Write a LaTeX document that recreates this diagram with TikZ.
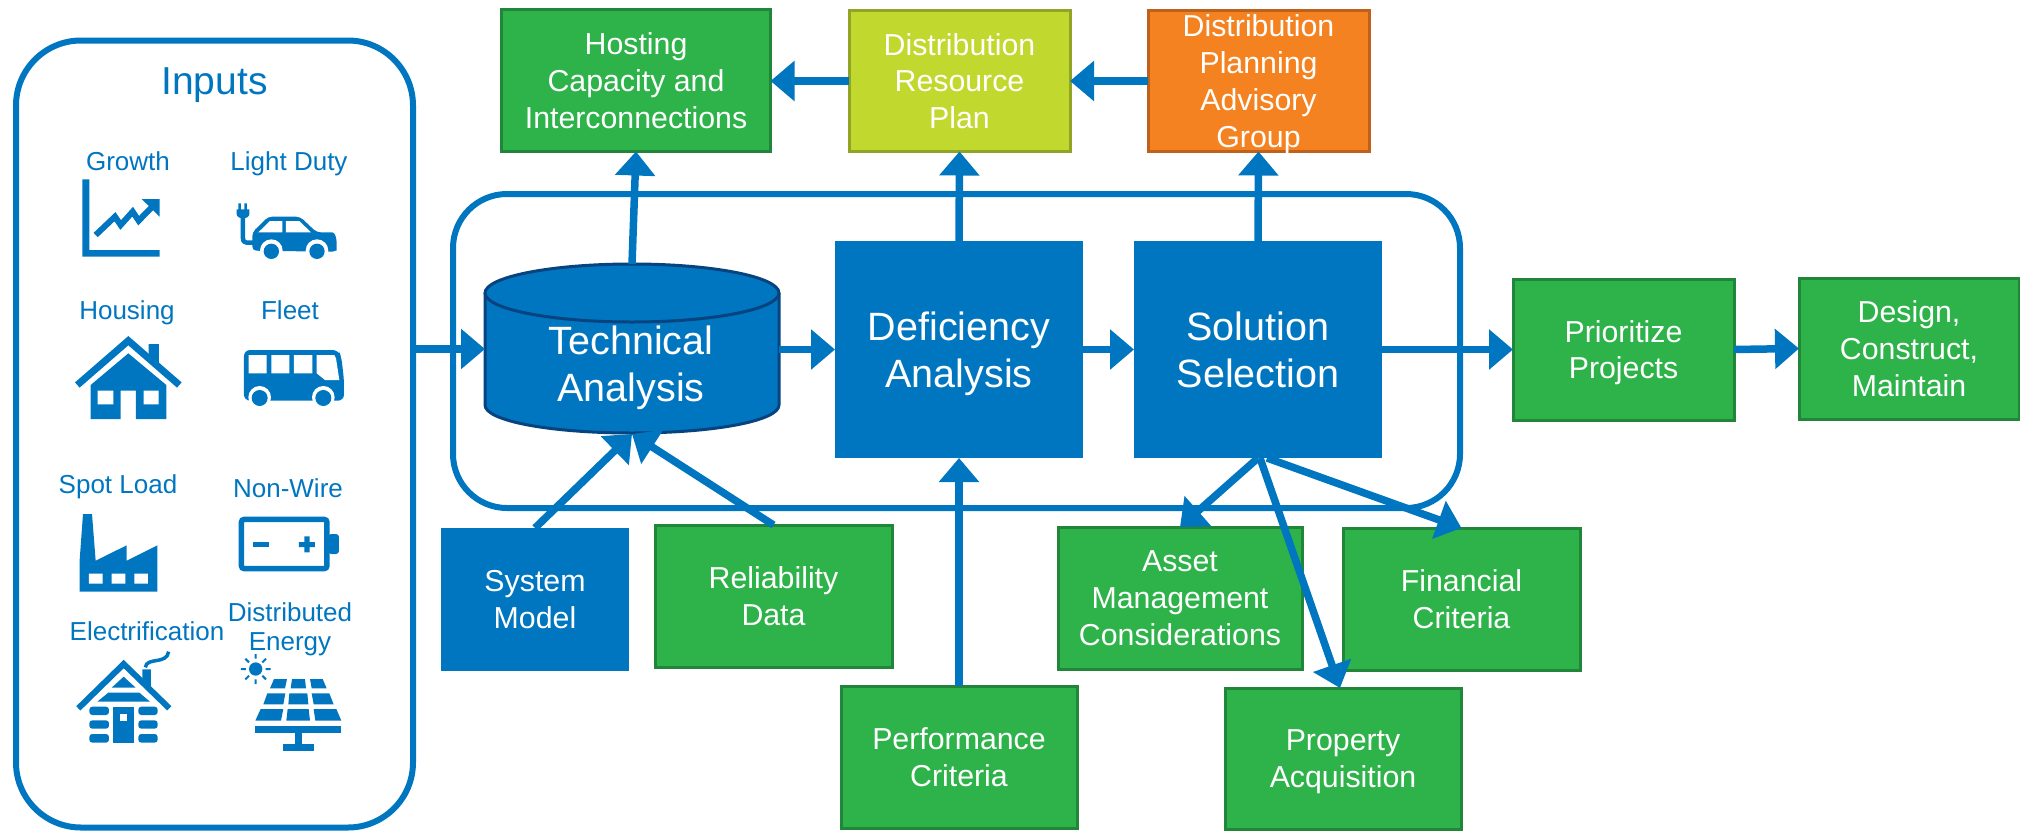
\documentclass[tikz,border=0pt]{standalone}
\usepackage{fontspec}
\setmainfont{Liberation Sans}
\usetikzlibrary{arrows.meta,calc}
\definecolor{mainblue}{HTML}{0176C0}
\definecolor{cyledge}{HTML}{06437F}
\definecolor{boxgreen}{HTML}{2EB34A}
\definecolor{greenedge}{HTML}{22863A}
\definecolor{boxlime}{HTML}{C1D82F}
\definecolor{limeedge}{HTML}{92A426}
\definecolor{boxorange}{HTML}{F58220}
\definecolor{orangeedge}{HTML}{BF611B}
\tikzset{
  basebox/.style={rectangle,inner sep=0pt,outer sep=0pt,align=center,text=white,text depth=0pt,
    font=\fontsize{30.3}{36.7}\selectfont},
  greenbox/.style={basebox,fill=boxgreen,draw=greenedge,line width=3pt},
  limebox/.style={basebox,fill=boxlime,draw=limeedge,line width=3pt},
  orangebox/.style={basebox,fill=boxorange,draw=orangeedge,line width=3pt},
  bluebox/.style={basebox,fill=mainblue},
  bigbox/.style={bluebox,font=\fontsize{39.5}{47}\selectfont},
  frame/.style={rectangle,draw=mainblue,line width=6pt,inner sep=0pt,outer sep=0pt},
  inlabel/.style={inner sep=0pt,align=center,text=mainblue,font=\fontsize{26}{29}\selectfont},
  flow/.style={draw=mainblue,line width=7.5pt,-{Triangle[length=24pt,width=39pt]}},
  icon/.style={shift={(0,#1)},scale=0.33333,mainblue,fill=mainblue},
  hole/.style={fill=white}
}
\begin{document}
\begin{tikzpicture}[x=1pt,y=-1pt]
\useasboundingbox (0,0) rectangle (2020,830);

% frames
\node[frame,rounded corners=54pt,minimum width=1007pt,minimum height=314pt] (middle) at (956.5,351) {};
\node[frame,rounded corners=65pt,minimum width=397pt,minimum height=787pt] (inputs) at (214.5,434) {};
\node[inlabel,font=\fontsize{39}{45}\selectfont] (inputstitle) at (214.5,85) {Inputs};

% input labels
\node[inlabel] (lgrowth) at (128,161) {Growth};
\node[inlabel] (llight) at (289,164) {Light Duty};
\node[inlabel] (lhousing) at (127,313) {Housing};
\node[inlabel] (lfleet) at (290,310) {Fleet};
\node[inlabel] (lspot) at (118,487) {Spot Load};
\node[inlabel] (lnonwire) at (288,488) {Non-Wire};
\node[inlabel] (lelec) at (147,631) {Electrification};
\node[inlabel] (ldist) at (290,629) {Distributed\\Energy};

% icons from first zoom (y offset 100)
\begin{scope}[icon=100]
  % growth
  \fill (247,238) -- (268,238) -- (268,450) -- (479,450) -- (479,470) -- (247,470) -- cycle;
  \draw[line width=6pt,miter limit=10] (287,405) -- (345,350) -- (362,375) -- (398,335) -- (416,362) -- (455,322);
  \fill (425,297) -- (479,297) -- (479,350) -- cycle;
  % car
  \fill[rounded corners=4pt] (757,452) -- (757,397) -- (805,350) -- (900,350) -- (950,397) -- (985,397) .. controls (1005,397) and (1010,415) .. (1010,440) .. controls (1010,450) and (1000,455) .. (985,455) -- cycle;
  \fill[hole] (775,397) -- (810,363) -- (847,363) -- (847,397) -- cycle;
  \fill[hole] (858,363) -- (898,363) -- (933,397) -- (858,397) -- cycle;
  \fill[hole] (814,452) circle (34) (951,452) circle (34);
  \fill (814,454) circle (23) (951,454) circle (23);
  \fill (715,310) rectangle (723,330) (733,310) rectangle (741,330);
  \fill (710,328) -- (748,328) -- (748,342) .. controls (748,350) and (738,356) .. (729,356) .. controls (720,356) and (710,350) .. (710,342) -- cycle;
  \draw[line width=4.5pt] (729,350) -- (729,415) .. controls (729,425) and (735,428) .. (745,428) -- (760,428);
  % house
  \draw[line width=7pt] (232,855) -- (385,722) -- (538,855);
  \fill (446,732) -- (477,732) -- (477,800) -- (446,772) -- cycle;
  \fill (272,855) -- (385,760) -- (499,855) -- (499,957) -- (408,957) -- (408,872) -- (362,872) -- (362,957) -- (272,957) -- cycle;
  \fill[hole] (293,872) rectangle (340,913) (431,872) rectangle (476,913);
  % bus
  \fill[rounded corners=6pt] (732,902) -- (732,750) -- (1015,750) -- (1024,770) -- (1032,840) -- (1032,902) -- cycle;
  \fill[hole] (746,765) rectangle (800,820) (814,765) rectangle (868,820) (882,765) rectangle (937,820);
  \fill[hole] (950,765) -- (1003,765) -- (1008,775) -- (1018,840) -- (975,840) -- (950,820) -- cycle;
  \fill[hole] (779,892) circle (34) (970,892) circle (34);
  \fill (779,894) circle (24) (970,894) circle (24);
\end{scope}

% icons from second zoom (y offset 460)
\begin{scope}[icon=460]
  % factory
  \fill (249,162) -- (276,162) -- (287,302) -- (380,256) -- (380,302) -- (472,256) -- (472,395) -- (239,395) -- (239,300) -- cycle;
  \fill[hole] (267,341) rectangle (308,371) (335,341) rectangle (376,371) (403,341) rectangle (444,371);
  % battery
  \draw[line width=5.5pt,rounded corners=3pt] (724,178) rectangle (981,326);
  \fill[rounded corners=3pt] (985,222) rectangle (1017,282);
  \fill (759,246) rectangle (807,261);
  \fill (897,246) rectangle (945,261) (913,229) rectangle (929,277);
  % cabin
  \draw[line width=6pt] (235,745) -- (371,612) -- (508,745);
  \fill (427,628) -- (453,628) -- (453,682) -- (427,655) -- cycle;
  \draw[line width=3.5pt,fill=none] (436,622) .. controls (440,590) and (500,615) .. (506,575);
  \fill (335,683) -- (371,650) -- (407,683) -- cycle;
  \fill (292,725) -- (325,698) -- (418,698) -- (450,725) -- cycle;
  \fill (340,740) rectangle (402,848);
  \fill[hole] (360,763) rectangle (382,784);
  \fill[rounded corners=3pt] (268,740) rectangle (327,765) (268,781) rectangle (327,806) (268,822) rectangle (327,848);
  \fill[rounded corners=3pt] (415,740) rectangle (473,765) (415,781) rectangle (473,806) (415,822) rectangle (473,848);
  % solar
  \fill (767,627) circle (20);
  \draw[line width=2pt] (767,582) -- (767,596) (767,658) -- (767,672) (723,627) -- (738,627) (797,627) -- (812,627)
    (736,596) -- (747,607) (787,647) -- (798,658) (736,658) -- (747,647) (787,607) -- (798,596);
  \fill (822,657) -- (861,657) -- (855,685) -- (810,685) -- cycle;
  \fill (876,657) -- (915,657) -- (918,685) -- (872,685) -- cycle;
  \fill (930,657) -- (968,657) -- (980,685) -- (935,685) -- cycle;
  \fill (802,700) -- (856,700) -- (850,733) -- (790,733) -- cycle;
  \fill (868,700) -- (922,700) -- (925,733) -- (865,733) -- cycle;
  \fill (935,700) -- (988,700) -- (1001,733) -- (941,733) -- cycle;
  \fill (782,747) -- (850,747) -- (843,782) -- (766,782) -- cycle;
  \fill (863,747) -- (926,747) -- (930,782) -- (859,782) -- cycle;
  \fill (941,747) -- (1009,747) -- (1024,782) -- (946,782) -- cycle;
  \fill (766,797) rectangle (1024,818);
  \fill (886,818) rectangle (905,852);
  \fill (849,852) rectangle (942,872);
\end{scope}

% process boxes
\node[greenbox,minimum width=269pt,minimum height=142pt] (hosting) at (636,80.5) {Hosting\\Capacity and\\Interconnections};
\node[limebox,minimum width=221pt,minimum height=141pt] (drp) at (959.5,81) {Distribution\\Resource\\Plan};
\node[orangebox,minimum width=221pt,minimum height=141pt] (dpag) at (1258.5,81) {Distribution\\Planning\\Advisory\\Group};

\fill[fill=mainblue,draw=cyledge,line width=3pt] (485,293) -- (485,405) .. controls (485,421) and (551,433) .. (632,433) .. controls (713,433) and (779,421) .. (779,405) -- (779,293);
\draw[fill=mainblue,draw=cyledge,line width=3pt] (632,293) ellipse [x radius=147, y radius=29];
\node[rectangle,inner sep=0pt,outer sep=0pt,minimum width=294pt,minimum height=170pt] (tech) at (632,349) {};
\node[basebox,font=\fontsize{39.5}{47}\selectfont] (techtext) at (631,364) {Technical\\Analysis};

\node[bigbox,minimum width=248pt,minimum height=217pt] (def) at (959,349.5) {Deficiency\\Analysis};
\node[bigbox,minimum width=248pt,minimum height=217pt] (sol) at (1258,349.5) {Solution\\Selection};
\node[greenbox,minimum width=221pt,minimum height=141pt] (prior) at (1623.5,349.5) {Prioritize\\Projects};
\node[greenbox,minimum width=220pt,minimum height=141pt] (design) at (1909,348.5) {Design,\\Construct,\\Maintain};
\node[bluebox,minimum width=188pt,minimum height=143pt] (sysmodel) at (535,599.5) {System\\Model};
\node[greenbox,minimum width=237pt,minimum height=142pt] (rel) at (773.5,596) {Reliability\\Data};
\node[greenbox,minimum width=236pt,minimum height=142pt] (perf) at (959,757) {Performance\\Criteria};
\node[greenbox,minimum width=244pt,minimum height=142pt] (asset) at (1180,598) {Asset\\Management\\Considerations};
\node[greenbox,minimum width=237pt,minimum height=142pt] (fin) at (1461.5,599) {Financial\\Criteria};
\node[greenbox,minimum width=236pt,minimum height=141pt] (prop) at (1343,758.5) {Property\\Acquisition};

% connectors
\draw[flow] (inputs.east |- tech.west) -- (tech.west);
\draw[flow] (tech.east |- def.west) -- (def.west);
\draw[flow] (def.east) -- (sol.west);
\draw[flow] (sol.east) -- (prior.west);
\draw[flow] (prior.east) -- (design.west);
\draw[flow] (drp.west) -- (hosting.east |- drp.west);
\draw[flow] (dpag.west) -- (drp.east);
\draw[flow] (tech.north) -- (hosting.south);
\draw[flow] (def.north) -- (drp.south);
\draw[flow] (sol.north) -- (dpag.south);
\draw[flow] (perf.north) -- (def.south);
\draw[flow] (sysmodel.north) -- (tech.south);
\draw[flow] (rel.north) -- (tech.south);
\draw[flow] (sol.south) -- (asset.north);
\draw[flow] ($(sol.south)+(9,0)$) -- (fin.north);
\draw[flow] ($(sol.south)+(2,0)$) -- ($(prop.north)+(-3,0)$);
\end{tikzpicture}
\end{document}
